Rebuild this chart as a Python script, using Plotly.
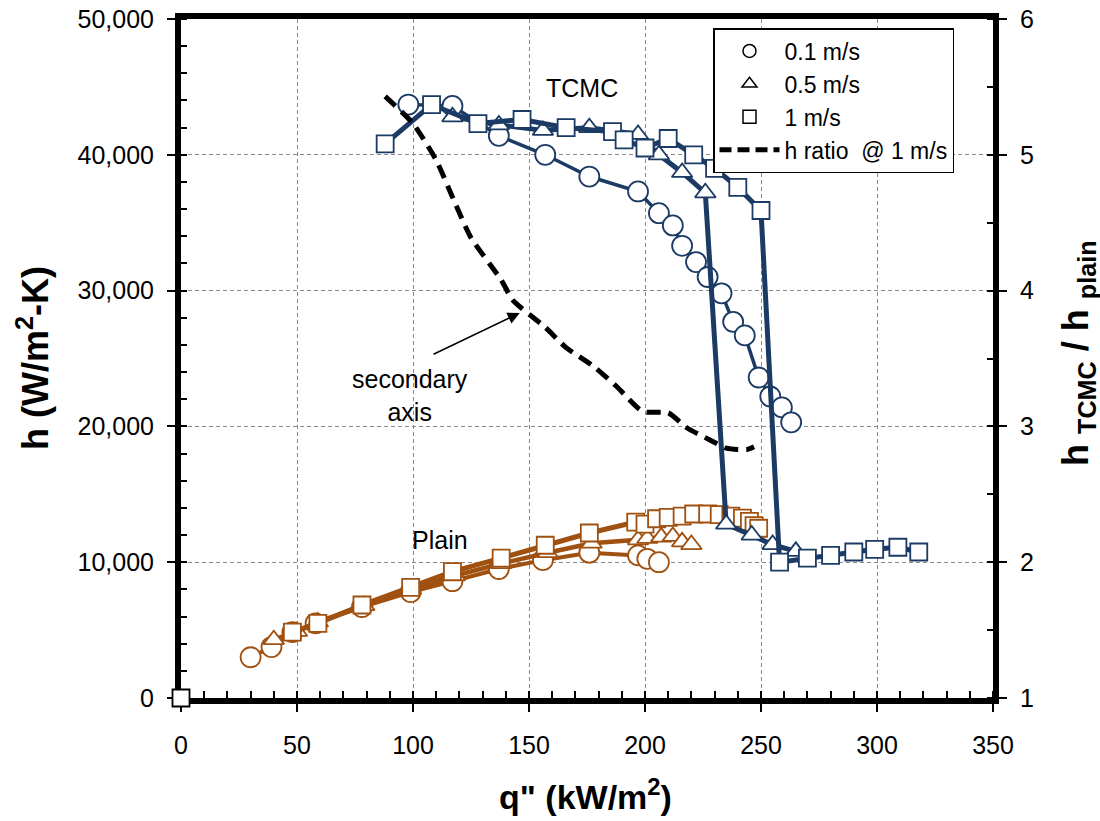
import plotly.graph_objects as go

# ---------------- data ----------------
# TCMC surface (h in W/m2-K, q in kW/m2)
tcmc_01_q = [98, 117, 137, 157, 176, 197, 206, 212, 216, 222, 227, 233, 238, 243, 249, 254, 259, 263]
tcmc_01_h = [43700, 43600, 41400, 40000, 38400, 37300, 35700, 34800, 33300, 32100, 31000,
             29800, 27700, 26700, 23600, 22200, 21400, 20300]

tcmc_05_q = [117, 137, 156, 176, 197, 206, 216, 226, 235, 246, 255, 265]
tcmc_05_h = [42800, 42200, 41800, 42000, 41500, 40000, 38700, 37200, 12800, 12000, 11300, 10800]

tcmc_1_q = [88, 108, 128, 147, 166, 186, 191, 200, 210, 221, 230, 240, 250,
            258, 270, 280, 290, 299, 309, 318]
tcmc_1_h = [40800, 43700, 42300, 42600, 42000, 41700, 41100, 40500, 41200, 40000, 39000, 37600, 35900,
            10000, 10300, 10500, 10750, 10950, 11100, 10750]

# Plain surface
plain_01_q = [30, 39, 48, 58, 78, 99, 117, 137, 156, 176, 197, 201, 206]
plain_01_h = [3000, 3750, 4850, 5500, 6700, 7800, 8600, 9500, 10150, 10700, 10500, 10250, 10000]

plain_05_q = [40, 50, 59, 79, 99, 118, 138, 158, 177, 197, 201, 207, 212, 216, 220]
plain_05_h = [4300, 4900, 5600, 6800, 8000, 9000, 9900, 10700, 11400, 11650, 11750, 11850, 11900, 11500, 11300]

plain_1_q = [48, 59, 78, 99, 117, 138, 157, 176, 196, 200, 205, 210, 216, 221, 227, 232, 237, 242, 245, 247, 249]
plain_1_h = [4850, 5500, 6850, 8150, 9300, 10300, 11250, 12150, 12950, 12800, 13200, 13300, 13400, 13550,
             13550, 13500, 13400, 13250, 13000, 12700, 12500]

# h ratio @ 1 m/s (secondary axis)
ratio_q = [88, 100, 110, 118, 125, 138, 143, 157, 166, 178, 188, 199, 210, 218, 228, 235, 244, 247]
ratio_v = [5.43, 5.23, 4.96, 4.65, 4.39, 4.08, 3.93, 3.73, 3.58, 3.44, 3.29, 3.11, 3.10, 2.99, 2.90, 2.84, 2.83, 2.85]

origin_q = [0]
origin_h = [0]

legend_names = ["0.1 m/s", "0.5 m/s", "1 m/s", "h ratio  @ 1 m/s"]

# ---------------- style ----------------
NAVY = "#1B3A64"
BROWN = "#A0500F"
FONT = "Liberation Sans, Arial, sans-serif"

fig = go.Figure()


def series(q, h, color, symbol, size, lw, mlw=1.8):
    fig.add_trace(go.Scatter(
        x=q, y=h, mode="lines+markers", showlegend=False, cliponaxis=False,
        line=dict(color=color, width=lw),
        marker=dict(symbol=symbol, size=size, color="white", line=dict(color=color, width=mlw)),
    ))


series(plain_01_q, plain_01_h, BROWN, "circle", 20, 4)
series(plain_05_q, plain_05_h, BROWN, "triangle-up", 18, 4.5)
series(plain_1_q, plain_1_h, BROWN, "square", 17, 5)

series(tcmc_01_q, tcmc_01_h, NAVY, "circle", 20, 3.5)
series(tcmc_05_q, tcmc_05_h, NAVY, "triangle-up", 18, 5)
series(tcmc_1_q, tcmc_1_h, NAVY, "square", 17, 5)

# origin marker
fig.add_trace(go.Scatter(
    x=origin_q, y=origin_h, mode="markers", showlegend=False, cliponaxis=False,
    marker=dict(symbol="square", size=17, color="white", line=dict(color="black", width=1.8)),
))

# ratio line on secondary axis
fig.add_trace(go.Scatter(
    x=ratio_q, y=ratio_v, yaxis="y2", mode="lines", showlegend=False, cliponaxis=False,
    line=dict(color="black", width=5, dash="14px,8px", shape="spline", smoothing=0.6),
))

# legend-only traces
for name, sym in zip(legend_names[:3], ["circle", "triangle-up", "square"]):
    fig.add_trace(go.Scatter(
        x=[None], y=[None], mode="markers", name=name,
        marker=dict(symbol=sym, size=13, color="white", line=dict(color="black", width=1.5)),
    ))
fig.add_trace(go.Scatter(
    x=[None], y=[None], mode="lines", name=legend_names[3],
    line=dict(color="black", width=5, dash="12px,6px"),
))

# ---------------- layout ----------------
L, R, T, B = 181, 993, 19, 698
PW, PH = R - L, B - T


def px(xp):
    return (xp - L) / PW


def py(yp):
    return (B - yp) / PH


grid = dict(showgrid=True, gridcolor="#8a8a8a", gridwidth=1, griddash="4px,3px")

fig.update_layout(
    width=1100, height=821,
    margin=dict(l=L, r=1100 - R, t=T, b=821 - B, autoexpand=False),
    paper_bgcolor="white", plot_bgcolor="white",
    font=dict(family=FONT, size=25, color="black"),
    xaxis=dict(
        range=[0, 350], dtick=50, tick0=0, **grid,
        showline=True, linecolor="black", linewidth=6, mirror=True,
        ticks="outside", ticklen=8, tickwidth=1.5, tickcolor="black",
        minor=dict(dtick=10, ticks="inside", ticklen=7, tickwidth=1.5, tickcolor="black", showgrid=False),
        ticklabelstandoff=12, tickfont=dict(size=25),
        zeroline=False, layer="below traces", automargin=False,
    ),
    yaxis=dict(
        range=[0, 50000], dtick=10000, tick0=0, **grid,
        tickformat=",d",
        showline=True, linecolor="black", linewidth=6,
        ticks="outside", ticklen=8, tickwidth=1.5, tickcolor="black",
        minor=dict(dtick=2000, ticks="inside", ticklen=6, tickwidth=1.5, tickcolor="black", showgrid=False),
        ticklabelstandoff=8, tickfont=dict(size=25),
        zeroline=False, layer="below traces", automargin=False,
    ),
    yaxis2=dict(
        range=[1, 6], dtick=1, tick0=1, overlaying="y", side="right", showgrid=False,
        showline=True, linecolor="black", linewidth=6,
        ticks="outside", ticklen=8, tickwidth=1.5, tickcolor="black",
        minor=dict(dtick=0.5, ticks="inside", ticklen=6, tickwidth=1.5, tickcolor="black", showgrid=False),
        ticklabelstandoff=8, tickfont=dict(size=25),
        zeroline=False, layer="below traces", automargin=False,
    ),
    legend=dict(
        x=px(713), y=py(28), xanchor="left", yanchor="top",
        bgcolor="white", bordercolor="black", borderwidth=1.5,
        font=dict(size=23), itemwidth=60, tracegroupgap=0,
    ),
    showlegend=True,
)

ann = []
# axis titles
ann.append(dict(text="h (W/m<sup>2</sup>-K)", xref="paper", yref="paper", x=px(33), y=py(358),
                textangle=-90, showarrow=False, font=dict(size=36, family=FONT), xanchor="center", yanchor="middle"))
ann.append(dict(text="h <sub>TCMC</sub> / h <sub>plain</sub>", xref="paper", yref="paper", x=px(1078), y=py(353),
                textangle=-90, showarrow=False, font=dict(size=36, family=FONT), xanchor="center", yanchor="middle"))
ann.append(dict(text="q\" (kW/m<sup>2</sup>)", xref="paper", yref="paper", x=px(585), y=py(794),
                showarrow=False, font=dict(size=34, family=FONT), xanchor="center", yanchor="middle"))
# in-plot labels
ann.append(dict(text="TCMC", x=172.8, y=44900, xref="x", yref="y", showarrow=False, font=dict(size=25)))
ann.append(dict(text="Plain", x=111.6, y=11600, xref="x", yref="y", showarrow=False, font=dict(size=25)))
ann.append(dict(text="secondary<br>axis", x=98.7, y=22300, xref="x", yref="y", showarrow=False,
                align="center", font=dict(size=25)))
ann.append(dict(text="", x=146, y=28350, ax=108.2, ay=25260, xref="x", yref="y", axref="x", ayref="y",
                showarrow=True, arrowhead=2, arrowsize=1.6, arrowwidth=1.5, arrowcolor="black", standoff=0))
for a in ann[:3]:
    a["text"] = "<b>" + a["text"] + "</b>"
fig.update_layout(annotations=ann)

fig.write_html("out.html")
